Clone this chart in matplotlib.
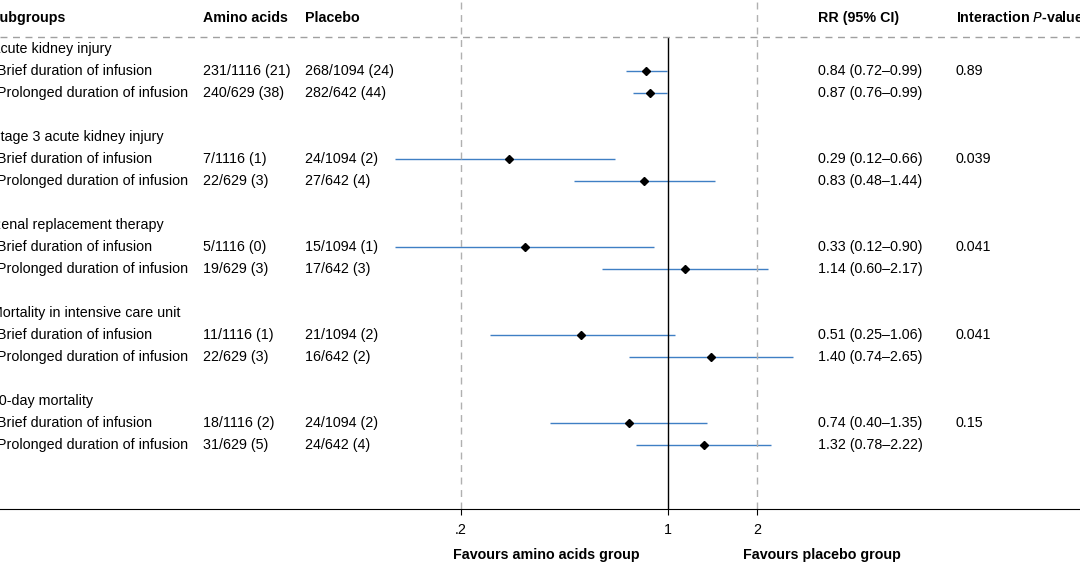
import matplotlib
matplotlib.use("Agg")
import matplotlib.pyplot as plt
import numpy as np

plt.rcParams['font.family'] = ['Liberation Sans', 'DejaVu Sans']

groups = ["Acute kidney injury", "Stage 3 acute kidney injury", "Renal replacement therapy",
          "Mortality in intensive care unit", "90-day mortality"]
subs = ["Brief duration of infusion", "Prolonged duration of infusion"]
amino = ["231/1116 (21)", "240/629 (38)", "7/1116 (1)", "22/629 (3)", "5/1116 (0)",
         "19/629 (3)", "11/1116 (1)", "22/629 (3)", "18/1116 (2)", "31/629 (5)"]
placebo = ["268/1094 (24)", "282/642 (44)", "24/1094 (2)", "27/642 (4)", "15/1094 (1)",
           "17/642 (3)", "21/1094 (2)", "16/642 (2)", "24/1094 (2)", "24/642 (4)"]
rr = [0.84, 0.87, 0.29, 0.83, 0.33, 1.14, 0.51, 1.40, 0.74, 1.32]
lo = [0.72, 0.76, 0.12, 0.48, 0.12, 0.60, 0.25, 0.74, 0.40, 0.78]
hi = [0.99, 0.99, 0.66, 1.44, 0.90, 2.17, 1.06, 2.65, 1.35, 2.22]
p_int = ["0.89", "0.039", "0.041", "0.041", "0.15"]

W, H = 1080, 566
FS = 10.3
fig = plt.figure(figsize=(W / 100, H / 100), dpi=100)
ax = fig.add_axes([0, (H - 509) / H, 1, 509 / H])
ax.set_xscale('log')
ppd = 296.0
ax.set_xlim(10 ** (-668 / ppd), 10 ** ((W - 668) / ppd))
ax.set_ylim(20.91, -2.227)

# row positions (row k -> pixel y = 49 + 22k)
ypos = []
for g in range(5):
    ypos += [4 * g + 1, 4 * g + 2]
ypos = np.array(ypos)

ax.hlines(ypos, lo, hi, color='#3f7fc4', lw=1)
ax.plot(rr, ypos, 'D', color='black', ms=4.5)
ax.vlines(1, -0.55, 20.91, color='black', lw=1)
for xv in [0.2, 2]:
    ax.axvline(xv, color='#b0b0b0', ls=(0, (5, 4)), lw=1)
ax.axhline(-0.55, color='#a0a0a0', ls=(0, (5, 4)), lw=1)

for s in ['top', 'left', 'right']:
    ax.spines[s].set_visible(False)
ax.set_yticks([])
ax.set_xticks([0.2, 1, 2])
ax.set_xticklabels(['.2', '1', '2'])
ax.xaxis.set_minor_locator(matplotlib.ticker.NullLocator())
ax.tick_params(axis='x', length=4, labelsize=FS, pad=6)

def t(x, y, s, **kw):
    fig.text(x / W, 1 - y / H, s, va='center', fontsize=FS, **kw)

t(-9, 18, "Subgroups", weight='bold')
t(203, 18, "Amino acids", weight='bold')
t(305, 18, "Placebo", weight='bold')
t(818, 18, "RR (95% CI)", weight='bold')
t(956, 18, r"Interaction $\bf{\it{P}}$-value", weight='bold')

for g, name in enumerate(groups):
    t(-9, 49 + 22 * 4 * g, name)
    t(956, 71 + 88 * g, p_int[g])
for i, k in enumerate(ypos):
    y = 49 + 22 * k
    t(-3, y, subs[i % 2])
    t(203, y, amino[i])
    t(305, y, placebo[i])
    t(818, y, f"{rr[i]:.2f} ({lo[i]:.2f}\u2013{hi[i]:.2f})")

fig.text(546 / W, 1 - 555 / H, "Favours amino acids group", ha='center', va='center',
         fontsize=FS, weight='bold')
fig.text(822 / W, 1 - 555 / H, "Favours placebo group", ha='center', va='center',
         fontsize=FS, weight='bold')

fig.savefig("out.png", dpi=100)
